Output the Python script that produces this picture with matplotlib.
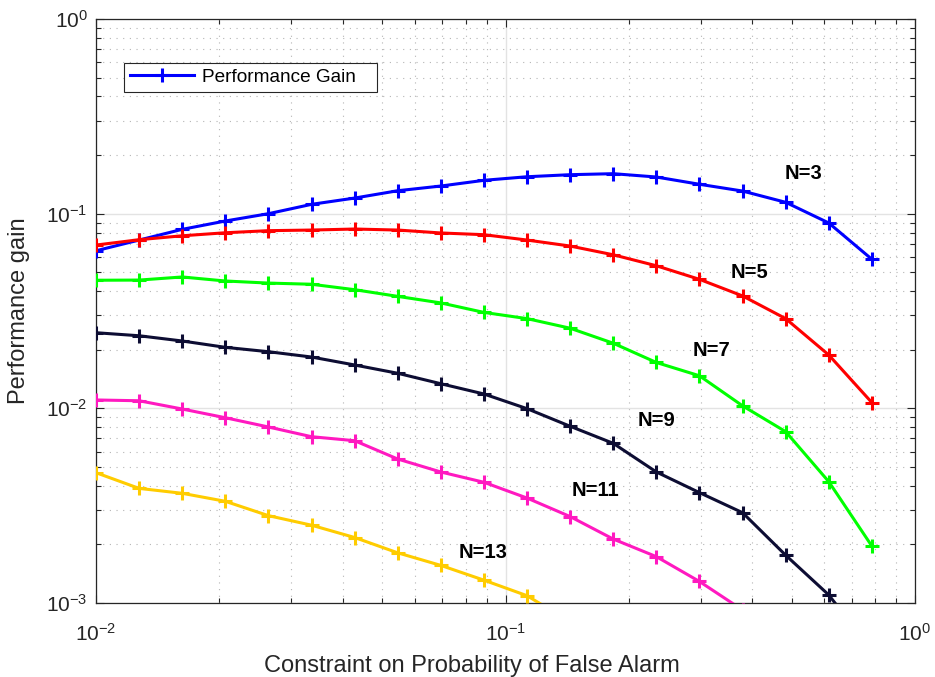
import matplotlib.pyplot as plt
from matplotlib.ticker import LogLocator, NullFormatter

plt.rcParams['font.family'] = ['Liberation Sans', 'DejaVu Sans']

# false-alarm constraint grid (log spaced)
pfa = [0.0100, 0.01274, 0.01624, 0.02069, 0.02637, 0.03360, 0.04281,
       0.05456, 0.06952, 0.08859, 0.1129, 0.1438, 0.1833, 0.2336,
       0.2976, 0.3793, 0.4833, 0.6158, 0.7848]

gain_n3 = [0.0645, 0.0732, 0.0831, 0.0917, 0.1000, 0.1117, 0.1203, 0.1312,
           0.1387, 0.1484, 0.1548, 0.1586, 0.1605, 0.1543, 0.1416, 0.1307,
           0.1144, 0.0896, 0.0583]
gain_n5 = [0.0690, 0.0735, 0.0770, 0.0798, 0.0818, 0.0824, 0.0834, 0.0824,
           0.0796, 0.0780, 0.0732, 0.0682, 0.0615, 0.0540, 0.0460, 0.0378,
           0.0289, 0.0188, 0.0107]
gain_n7 = [0.0455, 0.0456, 0.0473, 0.0451, 0.0440, 0.0434, 0.0407, 0.0376,
           0.0348, 0.0311, 0.0289, 0.0258, 0.0216, 0.0172, 0.0147, 0.0103,
           0.00759, 0.00420, 0.00196]
gain_n9 = [0.02446, 0.02360, 0.02218, 0.02058, 0.01954, 0.01835, 0.01670,
           0.01514, 0.01338, 0.01185, 0.00996, 0.00809, 0.00661, 0.00471,
           0.00369, 0.00291, 0.00176, 0.00110, 0.00057]
gain_n11 = [0.01104, 0.01094, 0.00992, 0.00895, 0.00802, 0.00715, 0.00682,
            0.00549, 0.00471, 0.00417, 0.00346, 0.00278, 0.00213, 0.00173,
            0.00129, 0.00092]
gain_n13 = [0.00467, 0.00388, 0.00366, 0.00333, 0.00281, 0.00251, 0.00217,
            0.00181, 0.00156, 0.00131, 0.00109, 0.00080]

# curve, colour, tag, tag position (data coords)
curves = [
    (gain_n3, 'blue', 'N=3', (0.533, 0.160)),
    (gain_n5, 'red', 'N=5', (0.394, 0.0496)),
    (gain_n7, '#00ff00', 'N=7', (0.318, 0.0199)),
    (gain_n9, '#0d0d33', 'N=9', (0.234, 0.0087)),
    (gain_n11, '#ff19c0', 'N=11', (0.166, 0.0038)),
    (gain_n13, '#ffcc00', 'N=13', (0.088, 0.00182)),
]

fig = plt.figure(figsize=(9.35, 6.77), dpi=100)
ax = fig.add_axes([0.1027, 0.1093, 0.8759, 0.8626])

for i, (vals, col, name, pos) in enumerate(curves):
    ax.plot(pfa[:len(vals)], vals, color=col, lw=2.2, marker='+', ms=10,
            mew=2.2, label='Performance Gain   ' if i == 0 else None, zorder=3)
    ax.text(pos[0], pos[1], name, fontsize=14.5, fontweight='bold',
            ha='center', va='center')

ax.set_xscale('log')
ax.set_yscale('log')
ax.set_xlim(1e-2, 1)
ax.set_ylim(1e-3, 1)

ax.xaxis.set_major_locator(LogLocator(base=10, numticks=5))
ax.yaxis.set_major_locator(LogLocator(base=10, numticks=5))
ax.xaxis.set_minor_locator(LogLocator(base=10, subs=range(2, 10), numticks=10))
ax.yaxis.set_minor_locator(LogLocator(base=10, subs=range(2, 10), numticks=10))
ax.xaxis.set_minor_formatter(NullFormatter())
ax.yaxis.set_minor_formatter(NullFormatter())

ax.grid(which='major', color='#e3e3e3', lw=1.0, ls='-')
ax.grid(which='minor', color='#b5b5b5', lw=0.8, ls=(0, (1, 5)))
ax.set_axisbelow(True)

ax.tick_params(which='both', direction='in', top=True, right=True,
               color='#262626', labelsize=15, labelcolor='#262626')
ax.tick_params(which='major', length=6, width=0.8)
ax.tick_params(which='minor', length=3.5, width=0.8)
ax.tick_params(axis='x', pad=14)
ax.tick_params(axis='y', pad=6)
for sp in ax.spines.values():
    sp.set_color('#262626')
    sp.set_linewidth(0.9)

ax.set_xlabel('Constraint on Probability of False Alarm', fontsize=17,
              color='#262626', labelpad=8)
ax.xaxis.label.set_x(0.459)
ax.set_ylabel('Performance gain', fontsize=17, color='#262626', labelpad=12)

leg = ax.legend(loc='upper left', bbox_to_anchor=(0.034, 0.925), fontsize=13.7,
                fancybox=False, framealpha=1, edgecolor='#262626',
                handlelength=3.4, handletextpad=0.4, borderpad=0.3,
                borderaxespad=0)
leg.get_frame().set_linewidth(0.8)

fig.savefig('out.png', dpi=100)
